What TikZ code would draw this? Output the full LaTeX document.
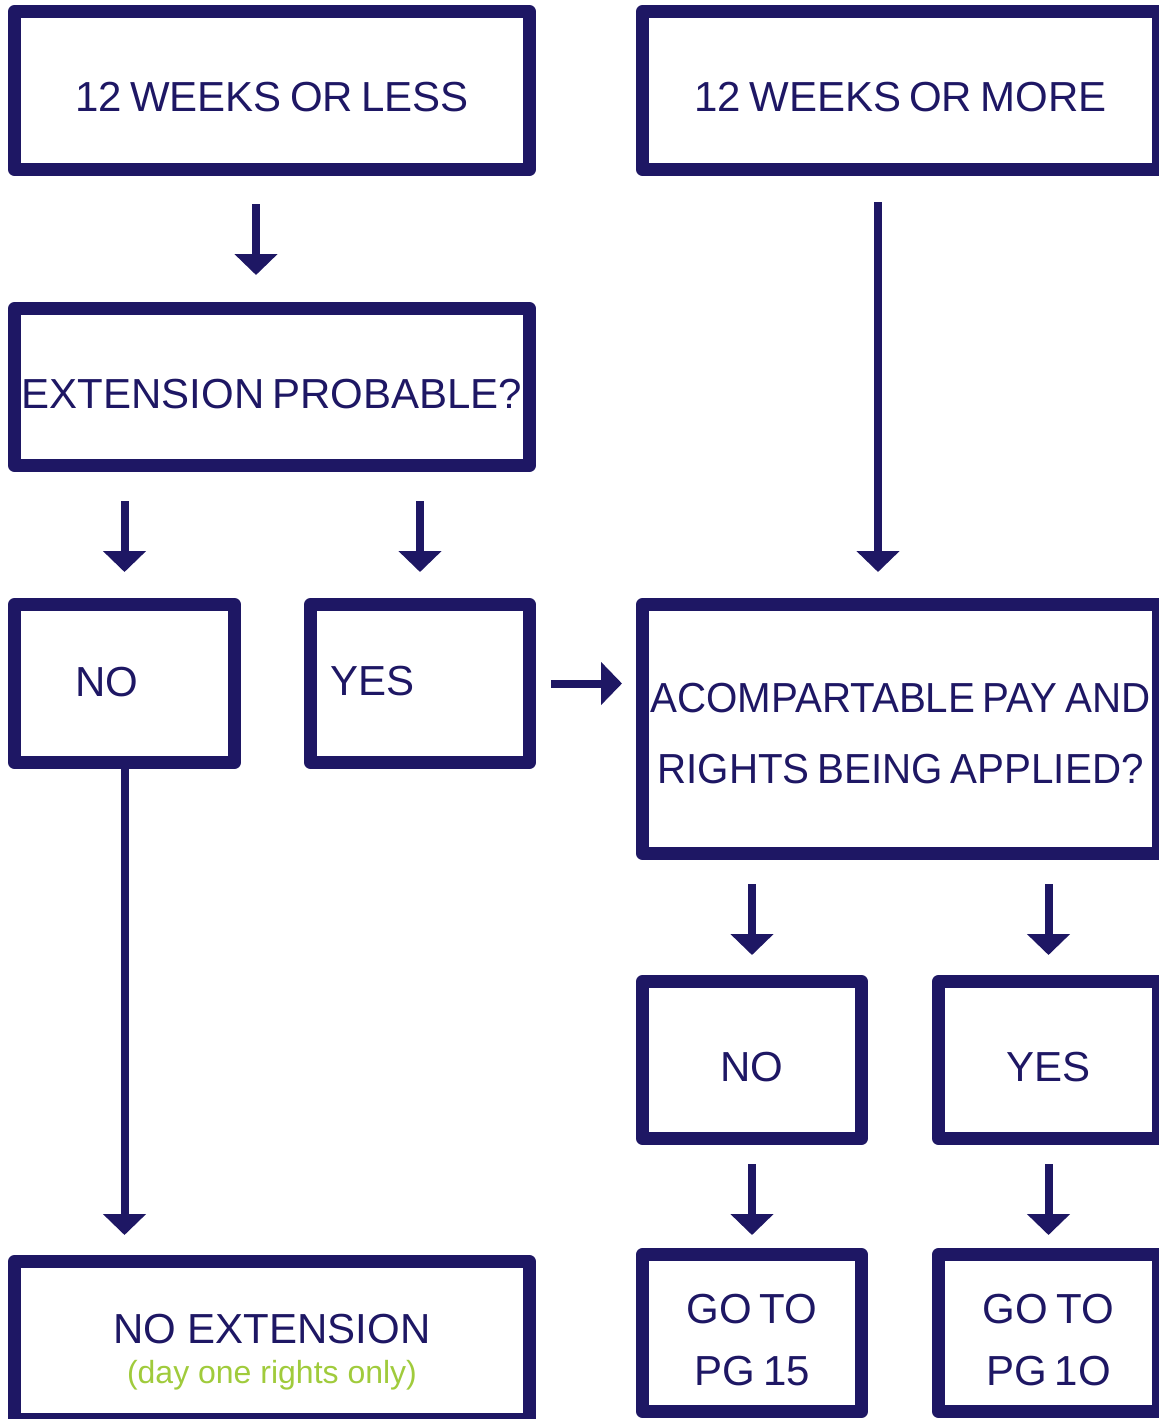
\documentclass[tikz,border=0pt]{standalone}
\usepackage{fontspec}
\setmainfont{Liberation Sans}[WordSpace=0.7]
\newfontfamily\plainfont{Liberation Sans}
\usepackage{graphicx}
\usetikzlibrary{arrows.meta}
\definecolor{navy}{RGB}{30,23,100}
\definecolor{limegreen}{RGB}{160,203,60}
\newcommand{\squeeze}[1]{\scalebox{0.96}[1]{#1}}

\begin{document}
\begin{tikzpicture}[x=1pt,y=-1pt,line join=round,
  box/.style={draw=navy,line width=13pt,text=navy,inner sep=0pt,
    font=\fontsize{42}{50}\selectfont,text height=42pt,text depth=0pt},
  wide/.style={box,minimum width=515pt,minimum height=158pt},
  small/.style={box,minimum width=219pt,minimum height=157pt},
  flow/.style={draw=navy,line width=8pt,line cap=butt,
    -{Triangle[width=42pt,length=21pt]}}]
  \useasboundingbox (0,0) rectangle (1159,1419);
  % boxes
  \node[wide] (less) at (272,90.5) {12 WEEKS OR LESS};
  \node[wide,minimum width=516pt] (more) at (900.5,90.5) {12 WEEKS OR MORE};
  \node[wide,minimum height=157pt] (ext) at (272,387) {EXTENSION PROBABLE?};
  \node[small,minimum width=220pt,minimum height=158pt,text width=99pt,
    align=left,text height=26pt] (noL) at (124.5,683.5) {NO};
  \node[small,minimum height=158pt,text width=180pt,align=left,
    text height=23pt] (yesL) at (420,683.5) {YES};
  \node[wide,minimum width=516pt,minimum height=249pt,align=center,
    font=\fontsize{42}{71}\selectfont,text height=108pt] (acomp) at (900.5,729)
    {\squeeze{ACOMPARTABLE PAY AND}\\\squeeze{RIGHTS BEING APPLIED?}};
  \node[small] (noR) at (752,1060) {NO};
  \node[small,minimum width=220pt] (yesR) at (1048.5,1060) {YES};
  \node[wide,align=center,font=\plainfont\fontsize{42}{40}\selectfont,
    text height=85pt] (noext) at (272,1340.5)
    {NO EXTENSION\\{\color{limegreen}\fontsize{32}{40}\selectfont (day one rights only)}};
  \node[small,align=center,font=\fontsize{42}{62}\selectfont,
    text height=104pt] (go15) at (752,1333) {GO TO\\PG 15};
  \node[small,minimum width=220pt,align=center,font=\fontsize{42}{62}\selectfont,
    text height=104pt] (go10) at (1048.5,1333) {GO TO\\PG 1O};
  % arrows
  \draw[flow,shorten <=28pt,shorten >=27pt] ([xshift=-16pt]less.south) -- ([xshift=-16pt]ext.north);
  \draw[flow,shorten <=29pt,shorten >=26pt] (ext.south -| noL) -- (noL);
  \draw[flow,shorten <=29pt,shorten >=26pt] (ext.south -| yesL) -- (yesL);
  \draw[flow,shorten <=26pt,shorten >=26pt] ([xshift=-22.5pt]more.south) -- ([xshift=-22.5pt]acomp.north);
  \draw[flow,shorten <=15pt,shorten >=14pt] (yesL.east) -- (yesL.east -| acomp.west);
  \draw[flow,shorten >=20pt] (noL) -- (noL |- noext.north);
  \draw[flow,shorten <=24pt,shorten >=20pt] (acomp.south -| noR) -- (noR);
  \draw[flow,shorten <=24pt,shorten >=20pt] (acomp.south -| yesR) -- (yesR);
  \draw[flow,shorten <=19pt,shorten >=13pt] (noR) -- (go15);
  \draw[flow,shorten <=19pt,shorten >=13pt] (yesR) -- (go10);
\end{tikzpicture}
\end{document}
